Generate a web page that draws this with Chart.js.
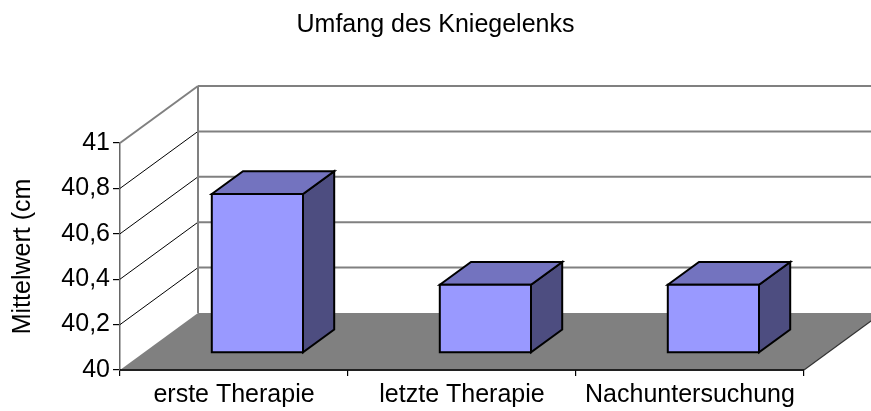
<!DOCTYPE html>
<html lang="de">
<head>
<meta charset="utf-8">
<title>Umfang des Kniegelenks</title>
<script src="https://cdn.jsdelivr.net/npm/chart.js@4/dist/chart.umd.min.js"></script>
<style>
  html, body { margin: 0; padding: 0; background: #fff; }
  #wrap { width: 871px; height: 411px; }
</style>
</head>
<body>
<div id="wrap"><canvas id="knee" width="871" height="411"></canvas></div>
<script>
// Daten
const categories = ['erste Therapie', 'letzte Therapie', 'Nachuntersuchung'];
const mittelwerte = [40.7, 40.3, 40.3];
const yMin = 40, yMax = 41, yStep = 0.2;
const chartTitle = 'Umfang des Kniegelenks';
const yTitle = 'Mittelwert (cm';

// 3D-Tiefe (Pixel) – Rückwand liegt um DX/DY versetzt
const DX = 78, DY = -57;
const BAR_FRONT = 0.3, BAR_DEPTH = 0.4;
const COL_FRONT = '#9999FF', COL_TOP = '#7373BF', COL_SIDE = '#4D4D80';

Chart.defaults.font.family = '"Liberation Sans", Arial, sans-serif';
Chart.defaults.color = '#000';

const fmt = v => (Math.round(v * 10) / 10).toLocaleString('de-DE');

// Boden, Rückwand und Gitterlinien
const wallPlugin = {
  id: 'wall3d',
  beforeDatasetsDraw(chart) {
    const { ctx, chartArea: a, width: W } = chart;
    const ys = chart.scales.y;
    const base = ys.getPixelForValue(yMin);
    ctx.save();
    // Boden
    ctx.fillStyle = '#808080';
    ctx.beginPath();
    ctx.moveTo(a.left, base);
    ctx.lineTo(a.right, base);
    ctx.lineTo(a.right + DX, base + DY);
    ctx.lineTo(a.left + DX, base + DY);
    ctx.closePath();
    ctx.fill();
    ctx.strokeStyle = '#333';
    ctx.lineWidth = 1.2;
    ctx.beginPath();
    ctx.moveTo(a.right, base);
    ctx.lineTo(a.right + DX, base + DY);
    ctx.stroke();
    // Gitter
    ys.ticks.forEach(t => {
      if (t.value <= yMin + 1e-9) return;
      const y = ys.getPixelForValue(t.value);
      const top = t.value >= yMax - 1e-9;
      ctx.beginPath();
      ctx.strokeStyle = top ? '#808080' : '#000';
      ctx.lineWidth = top ? 2 : 1;
      ctx.moveTo(a.left, y);
      ctx.lineTo(a.left + DX, y + DY);
      ctx.stroke();
      ctx.beginPath();
      ctx.strokeStyle = '#808080';
      ctx.lineWidth = 2;
      ctx.moveTo(a.left + DX, y + DY);
      ctx.lineTo(W, y + DY);
      ctx.stroke();
    });
    // Rückwand-Kante
    ctx.beginPath();
    ctx.strokeStyle = '#808080';
    ctx.lineWidth = 2;
    ctx.moveTo(a.left + DX, ys.getPixelForValue(yMax) + DY);
    ctx.lineTo(a.left + DX, base + DY);
    ctx.stroke();
    // Vorderkante
    ctx.beginPath();
    ctx.strokeStyle = '#000';
    ctx.lineWidth = 1.5;
    ctx.moveTo(a.left, base);
    ctx.lineTo(a.right, base);
    ctx.stroke();
    ctx.restore();
  },
  afterDatasetsDraw(chart) {
    const { ctx } = chart;
    const meta = chart.getDatasetMeta(0);
    ctx.save();
    ctx.strokeStyle = '#000';
    ctx.lineWidth = 2;
    ctx.lineJoin = 'miter';
    meta.data.forEach(el => {
      const { x, y, base, width } = el.getProps(['x', 'y', 'base', 'width'], true);
      const fx = x - width / 2 + BAR_FRONT * DX;
      const fy = y + BAR_FRONT * DY;
      const fb = base + BAR_FRONT * DY;
      const bx = BAR_DEPTH * DX, by = BAR_DEPTH * DY;
      const poly = (pts, fill) => {
        ctx.beginPath();
        ctx.moveTo(pts[0][0], pts[0][1]);
        pts.slice(1).forEach(p => ctx.lineTo(p[0], p[1]));
        ctx.closePath();
        ctx.fillStyle = fill;
        ctx.fill();
        ctx.stroke();
      };
      poly([[fx + width, fy], [fx + width + bx, fy + by], [fx + width + bx, fb + by], [fx + width, fb]], COL_SIDE);
      poly([[fx, fy], [fx + bx, fy + by], [fx + width + bx, fy + by], [fx + width, fy]], COL_TOP);
      poly([[fx, fy], [fx + width, fy], [fx + width, fb], [fx, fb]], COL_FRONT);
    });
    ctx.restore();
  }
};

new Chart(document.getElementById('knee'), {
  type: 'bar',
  data: {
    labels: categories,
    datasets: [{
      label: yTitle,
      data: mittelwerte,
      backgroundColor: 'rgba(0,0,0,0)',
      borderWidth: 0,
      base: yMin,
      barPercentage: 0.4,
      categoryPercentage: 1,
    }],
  },
  options: {
    responsive: false,
    animation: false,
    events: [],
    layout: { padding: 0 },
    plugins: {
      legend: { display: false },
      tooltip: { enabled: false },
      title: {
        display: true,
        text: chartTitle,
        font: { size: 25, weight: 'normal' },
        color: '#000',
        padding: { top: 10, bottom: 103 },
      },
    },
    scales: {
      x: {
        afterFit: s => { s.height = 41; },
        grid: { offset: true, drawOnChartArea: false, tickLength: 6, color: '#000', lineWidth: 1.2 },
        border: { display: true, color: '#000', width: 1.5 },
        ticks: { font: { size: 25 }, color: '#000', padding: 4, maxRotation: 0, autoSkip: false },
      },
      y: {
        min: yMin,
        max: yMax,
        afterFit: s => { s.width = 120; },
        grid: { drawOnChartArea: false, tickLength: 7, color: '#000', lineWidth: 1.2 },
        border: { display: true, color: '#666', width: 1.5 },
        ticks: { stepSize: yStep, font: { size: 25 }, color: '#000', padding: 3, callback: v => fmt(v) },
        title: { display: true, text: yTitle, font: { size: 25 }, color: '#000', padding: { top: 8 } },
      },
      // leerer Platzhalter rechts (Raum für die Tiefe)
      rechts: {
        position: 'right',
        min: yMin,
        max: yMax,
        afterFit: s => { s.width = 67; },
        grid: { display: false },
        border: { display: false },
        ticks: { display: false },
      },
    },
  },
  plugins: [wallPlugin],
});
</script>
</body>
</html>
